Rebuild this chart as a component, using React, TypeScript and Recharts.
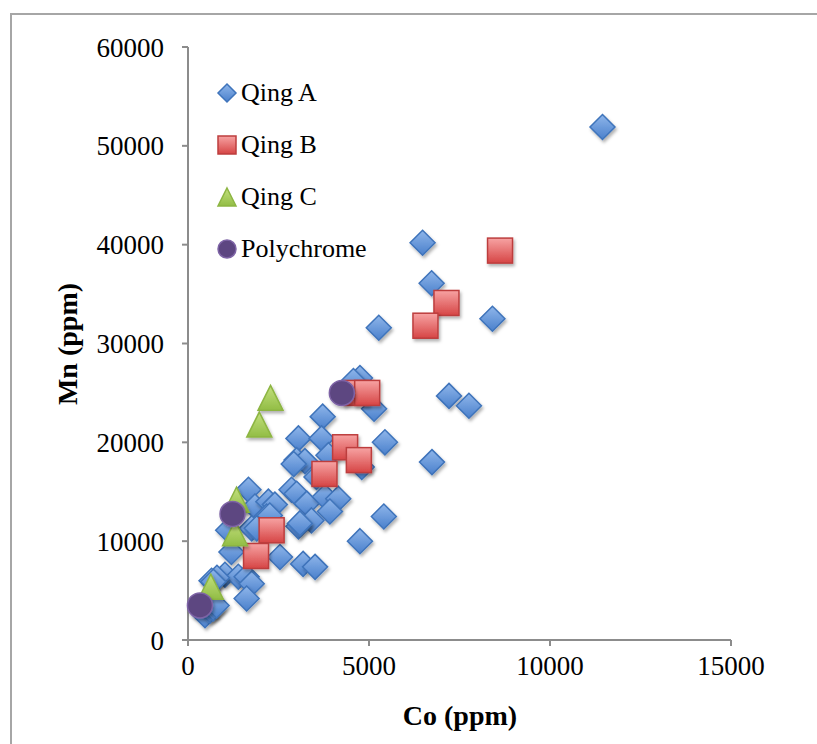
import { ScatterChart, Scatter, XAxis, YAxis } from "recharts";

// [Co, Mn] in ppm
const qingA = [
  [11450, 51900], [6480, 40200], [6730, 36100], [8410, 32500], [5270, 31600],
  [7210, 24700], [7760, 23700], [6740, 18000], [4750, 26500], [4570, 26200],
  [5140, 23400], [3720, 22600], [3050, 20400], [3690, 20400], [5440, 20000],
  [3880, 18700], [3000, 18200], [3230, 18100], [2920, 17800], [4800, 17500],
  [3550, 16500], [2860, 15200], [3000, 14800], [3280, 13800], [3780, 14500],
  [4150, 14300], [3920, 13000], [3410, 12100], [3050, 11500], [3090, 11800],
  [5410, 12500], [4750, 10000], [1670, 15200], [1850, 13500], [2220, 14000],
  [2400, 13700], [2170, 12500], [1110, 11100], [1760, 11300], [1900, 11300],
  [2260, 12600], [1200, 8900], [2540, 8400], [3180, 7700], [3510, 7400],
  [1020, 6600], [1390, 6400], [1620, 6400], [800, 6300], [650, 6000],
  [1760, 5700], [1620, 4200], [700, 5900], [470, 2500], [610, 3000],
  [700, 3200], [790, 3500],
];
const qingB = [
  [8620, 39400], [7140, 34100], [6560, 31800], [4650, 25000], [4950, 25000],
  [4340, 19500], [4720, 18200], [3770, 16800], [2310, 11100], [1880, 8500],
];
const qingC = [
  [2280, 24500], [1970, 21800], [1340, 14200], [1300, 10800], [630, 5400],
];
const polychrome = [
  [4250, 25000], [1230, 12750], [330, 3500],
];

const xTicks = [0, 5000, 10000, 15000];
const yTicks = [0, 10000, 20000, 30000, 40000, 50000, 60000];

const toPts = (arr: number[][]) => arr.map(([co, mn]) => ({ co, mn }));

const font = '"Liberation Serif", "DejaVu Serif", serif';

const Diamond = (p: any) => {
  const r = p.r ?? 12.5;
  const { cx, cy } = p;
  return (
    <path
      d={`M${cx},${cy - r} L${cx + r},${cy} L${cx},${cy + r} L${cx - r},${cy} Z`}
      fill="url(#gA)"
      stroke="#3f74bb"
      strokeWidth={1.5}
      filter={p.noShadow ? undefined : "url(#shadow)"}
    />
  );
};

const Square = (p: any) => {
  const r = p.r ?? 12.5;
  const { cx, cy } = p;
  return (
    <rect
      x={cx - r}
      y={cy - r}
      width={r * 2}
      height={r * 2}
      fill="url(#gB)"
      stroke="#bd3e3e"
      strokeWidth={1.5}
      filter={p.noShadow ? undefined : "url(#shadow)"}
    />
  );
};

const Triangle = (p: any) => {
  const r = p.r ?? 12.5;
  const { cx, cy } = p;
  return (
    <path
      d={`M${cx},${cy - r} L${cx + r},${cy + r} L${cx - r},${cy + r} Z`}
      fill="url(#gC)"
      stroke="#8db543"
      strokeWidth={1.5}
      filter={p.noShadow ? undefined : "url(#shadow)"}
    />
  );
};

const Dot = (p: any) => {
  const r = p.r ?? 12.5;
  return (
    <circle
      cx={p.cx}
      cy={p.cy}
      r={r}
      fill="#5d4681"
      stroke="#7e64a6"
      strokeWidth={1.5}
      filter={p.noShadow ? undefined : "url(#shadow)"}
    />
  );
};

const legendItems = [
  { name: "Qing A", Icon: Diamond },
  { name: "Qing B", Icon: Square },
  { name: "Qing C", Icon: Triangle },
  { name: "Polychrome", Icon: Dot },
];

const LegendBox = () => (
  <div
    style={{
      position: "absolute",
      left: 215,
      top: 67,
      fontFamily: font,
      fontSize: 26,
      color: "#000",
    }}
  >
    {legendItems.map(({ name, Icon }) => (
      <div key={name} style={{ display: "flex", alignItems: "center", height: 52 }}>
        <svg width={24} height={24}>
          <Icon cx={12} cy={12} r={9} noShadow />
        </svg>
        <span style={{ marginLeft: 2 }}>{name}</span>
      </div>
    ))}
  </div>
);

export default function App() {
  return (
    <div
      style={{
        position: "absolute",
        left: 0,
        top: 0,
        width: 817,
        height: 744,
        background: "#fff",
        overflow: "hidden",
      }}
    >
      <div
        style={{
          position: "absolute",
          left: 10,
          top: 13,
          width: 900,
          height: 900,
          borderLeft: "2px solid #a6a6a6",
          borderTop: "2px solid #a6a6a6",
        }}
      />
      <svg width={0} height={0} style={{ position: "absolute" }}>
        <defs>
          <linearGradient id="gA" x1="0" y1="0" x2="0" y2="1">
            <stop offset="0%" stopColor="#8fb6ea" />
            <stop offset="100%" stopColor="#4a80cc" />
          </linearGradient>
          <linearGradient id="gB" x1="0" y1="0" x2="0" y2="1">
            <stop offset="0%" stopColor="#f7a3a3" />
            <stop offset="100%" stopColor="#d64545" />
          </linearGradient>
          <linearGradient id="gC" x1="0" y1="0" x2="0" y2="1">
            <stop offset="0%" stopColor="#c3e07e" />
            <stop offset="100%" stopColor="#92bd45" />
          </linearGradient>
          <filter id="shadow" x="-50%" y="-50%" width="200%" height="200%">
            <feDropShadow dx="1.5" dy="2.5" stdDeviation="1.5" floodColor="#000" floodOpacity="0.3" />
          </filter>
        </defs>
      </svg>
      <ScatterChart
        width={817}
        height={744}
        margin={{ top: 47, right: 86, bottom: 44, left: 108 }}
        style={{ position: "absolute", left: 0, top: 0 }}
      >
        <XAxis
          type="number"
          dataKey="co"
          domain={[0, 15000]}
          ticks={xTicks}
          height={60}
          stroke="#8c8c8c"
          strokeWidth={2}
          tickSize={6}
          tick={{ fill: "#000", fontSize: 27, fontFamily: font }}
          tickMargin={10}
        />
        <YAxis
          type="number"
          dataKey="mn"
          domain={[0, 60000]}
          ticks={yTicks}
          width={80}
          stroke="#8c8c8c"
          strokeWidth={2}
          tickSize={6}
          tick={{ fill: "#000", fontSize: 27, fontFamily: font }}
          tickMargin={18}
        />
        <Scatter name="Qing A" data={toPts(qingA)} shape={<Diamond />} isAnimationActive={false} />
        <Scatter name="Qing B" data={toPts(qingB)} shape={<Square />} isAnimationActive={false} />
        <Scatter name="Qing C" data={toPts(qingC)} shape={<Triangle />} isAnimationActive={false} />
        <Scatter name="Polychrome" data={toPts(polychrome)} shape={<Dot />} isAnimationActive={false} />
      </ScatterChart>
      <LegendBox />
      <div
        style={{
          position: "absolute",
          left: 460,
          top: 716,
          transform: "translate(-50%, -50%)",
          fontFamily: font,
          fontWeight: "bold",
          fontSize: 28,
          whiteSpace: "nowrap",
        }}
      >
        Co (ppm)
      </div>
      <div
        style={{
          position: "absolute",
          left: 68,
          top: 344,
          transform: "translate(-50%, -50%) rotate(-90deg)",
          fontFamily: font,
          fontWeight: "bold",
          fontSize: 28,
          whiteSpace: "nowrap",
        }}
      >
        Mn (ppm)
      </div>
    </div>
  );
}
